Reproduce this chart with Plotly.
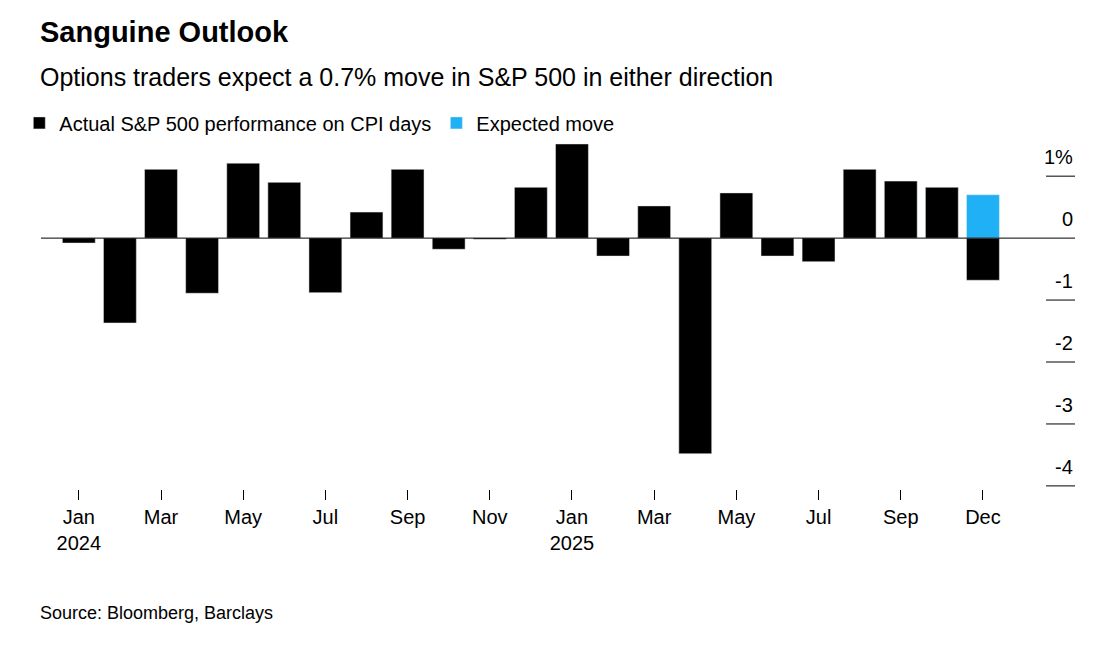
import plotly.graph_objects as go

months = ["Jan 2024","Feb","Mar","Apr","May","Jun","Jul","Aug","Sep","Oct","Nov","Dec",
          "Jan 2025","Feb","Mar","Apr","May","Jun","Jul","Aug","Sep","Oct","Dec"]
actual = [-0.08,-1.37,1.11,-0.89,1.21,0.90,-0.88,0.42,1.11,-0.18,-0.02,0.82,
          1.52,-0.29,0.52,-3.48,0.73,-0.29,-0.38,1.11,0.92,0.82,-0.68]
expected = [None]*22 + [0.70]
tick_idx = [0,2,4,6,8,10,12,14,16,18,20,22]
tick_text = ["Jan<br>2024","Mar","May","Jul","Sep","Nov","Jan<br>2025","Mar","May","Jul","Sep","Dec"]
ytick_vals = [1,0,-1,-2,-3,-4]
ytick_text = ["1%","0","-1","-2","-3","-4"]

x = list(range(len(months)))
F = "Liberation Sans, Arial, sans-serif"
fig = go.Figure()
fig.add_bar(x=x, y=actual, name="Actual S&P 500 performance on CPI days", marker_color="#000000")
fig.add_bar(x=x, y=expected, name="Expected move", marker_color="#1fb0f5")
fig.update_layout(
    barmode="relative", bargap=0.2, width=1116, height=648,
    plot_bgcolor="white", paper_bgcolor="white",
    margin=dict(l=32, r=49, t=131, b=167),
    font=dict(family=F, size=20, color="black"),
    legend=dict(orientation="h", x=-0.02, y=1.046, xanchor="left", yanchor="middle",
                font=dict(size=20), itemwidth=30, traceorder="normal"),
    xaxis=dict(range=[-0.92, 24.24], tickvals=tick_idx, ticktext=tick_text,
               ticks="outside", ticklen=10, tickcolor="black", showgrid=False,
               zeroline=False, showline=False),
    yaxis=dict(range=[-4.05, 1.6], showticklabels=False, showgrid=False, zeroline=False),
    showlegend=True,
)
fig.add_annotation(text="<b>Sanguine Outlook</b>", xref="paper", yref="paper", x=-0.003, y=1.0,
                   xanchor="left", yanchor="middle", yshift=107, showarrow=False, font=dict(size=29))
fig.add_annotation(text="Options traders expect a 0.7% move in S&P 500 in either direction",
                   xref="paper", yref="paper", x=-0.003, y=1.0, xanchor="left", yanchor="middle",
                   yshift=62, showarrow=False, font=dict(size=25))
fig.add_annotation(text="Source: Bloomberg, Barclays", xref="paper", yref="paper", x=-0.003, y=0,
                   xanchor="left", yanchor="middle", yshift=-124, showarrow=False, font=dict(size=18))
for v, t in zip(ytick_vals, ytick_text):
    fig.add_annotation(text=t, xref="paper", yref="y", x=1.0, y=v, xanchor="right", yanchor="bottom",
                       yshift=6, showarrow=False, font=dict(size=20))
    if v != 0:
        fig.add_shape(type="line", xref="paper", yref="y", x0=0.972, x1=1.0, y0=v, y1=v,
                      line=dict(color="black", width=1))
fig.add_shape(type="line", xref="paper", yref="y", x0=0, x1=1.0, y0=0, y1=0,
              line=dict(color="black", width=1))
fig.write_html("out.html")
